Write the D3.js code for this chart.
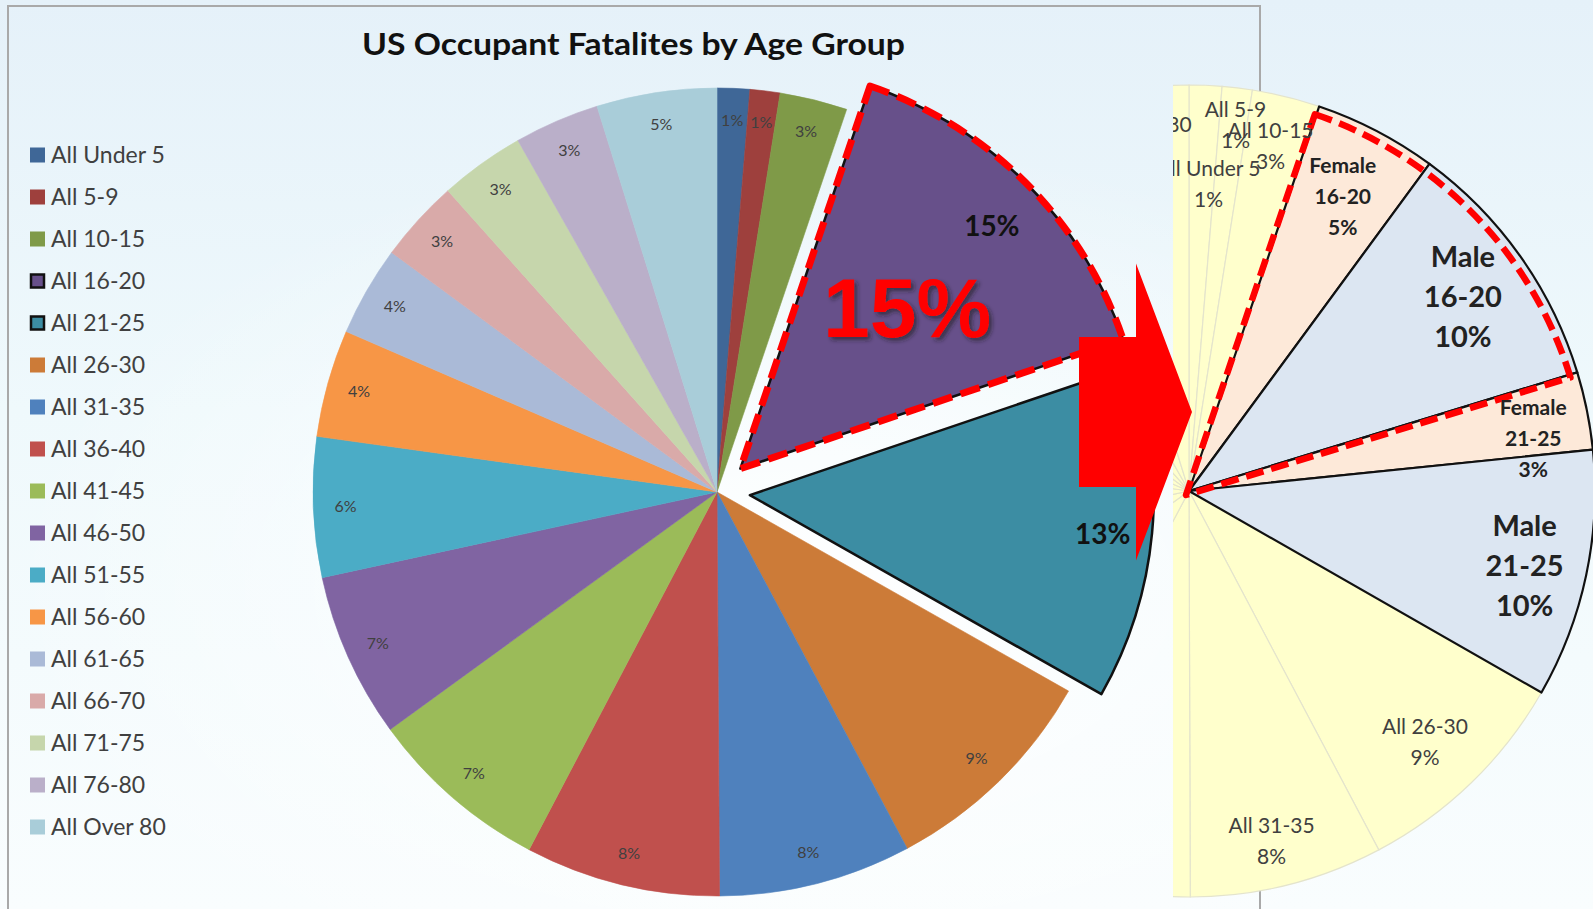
<!DOCTYPE html>
<html>
<head>
<meta charset="utf-8">
<script src="https://cdn.jsdelivr.net/npm/d3@7"></script>
<style>
  html, body { margin: 0; padding: 0; overflow: hidden; background: #fff; }
  svg { display: block; font-family: Lato, "Open Sans", sans-serif; }
</style>
</head>
<body>
<svg id="chart" width="1593" height="909"></svg>
<script>
// share of US occupant fatalities (%)
const ageGroups = ["All Under 5", "All 5-9", "All 10-15", "All 16-20", "All 21-25",
  "All 26-30", "All 31-35", "All 36-40", "All 41-45", "All 46-50", "All 51-55",
  "All 56-60", "All 61-65", "All 66-70", "All 71-75", "All 76-80", "All Over 80"];
const shares = [1.3, 1.2, 2.7, 14.6, 13.4, 9.0, 7.7, 7.8, 7.3, 6.6, 5.6, 4.3, 3.6, 3.3, 3.4, 3.4, 4.8];
const sliceColors = ["#3f6797", "#9e403d", "#7f9a48", "#67508a", "#3c8da3", "#cc7b38",
  "#4f81bd", "#c0504d", "#9bbb59", "#8064a2", "#4bacc6", "#f79646", "#aabad7",
  "#d9aaa9", "#c6d6ac", "#baafc9", "#a9cdd9"];

// groups pulled out of the main pie and split by sex on the right
const splitGroups = ["All 16-20", "All 21-25"];
const splitAges = ["16-20", "21-25"];
const femaleShares = [4.9, 3.1];
const maleShares = [10.2, 9.9];

const W = 1593, H = 909;
const svg = d3.select("#chart");
const defs = svg.append("defs");
const pct = d3.format(".0%");
const total = d3.sum(shares);

// sky-ish background
let sky = defs.append("linearGradient").attr("id", "sky")
  .attr("x1", 0).attr("y1", 0).attr("x2", 0).attr("y2", 1);
sky.append("stop").attr("offset", "0%").attr("stop-color", "#e5f1f9");
sky.append("stop").attr("offset", "45%").attr("stop-color", "#eff9fc");
sky.append("stop").attr("offset", "100%").attr("stop-color", "#f9fdfe");
let glow = defs.append("radialGradient").attr("id", "glow")
  .attr("cx", 0.5).attr("cy", 0.65).attr("r", 0.5);
glow.append("stop").attr("offset", "0%").attr("stop-color", "#ffffff").attr("stop-opacity", 0.95);
glow.append("stop").attr("offset", "100%").attr("stop-color", "#ffffff").attr("stop-opacity", 0);

let shadow = defs.append("filter").attr("id", "shadow")
  .attr("x", "-20%").attr("y", "-20%").attr("width", "140%").attr("height", "140%");
shadow.append("feDropShadow").attr("dx", 3).attr("dy", 3).attr("stdDeviation", 2)
  .attr("flood-color", "#222").attr("flood-opacity", 0.6);

svg.append("rect").attr("width", W).attr("height", H).attr("fill", "url(#sky)");
svg.append("rect").attr("width", W).attr("height", H).attr("fill", "url(#glow)");

// chart frame
svg.append("rect")
  .attr("x", 8).attr("y", 6).attr("width", 1252).attr("height", 940)
  .attr("fill", "none").attr("stroke", "#a9a9a9").attr("stroke-width", 2);

svg.append("text")
  .attr("x", 633.5).attr("y", 55)
  .attr("text-anchor", "middle")
  .attr("font-size", 30).attr("font-weight", "bold").attr("fill", "#111")
  .attr("textLength", 543).attr("lengthAdjust", "spacingAndGlyphs")
  .text("US Occupant Fatalites by Age Group");

// legend
let legend = svg.append("g");
ageGroups.forEach((g, i) => {
  let y = 155 + i * 42;
  let boxed = splitGroups.includes(g);
  legend.append("rect")
    .attr("x", boxed ? 31 : 30).attr("y", y - 7.5 + (boxed ? 1 : 0))
    .attr("width", boxed ? 13 : 15).attr("height", boxed ? 13 : 15)
    .attr("fill", sliceColors[i])
    .attr("stroke", boxed ? "#111" : "none").attr("stroke-width", 2.5);
  legend.append("text")
    .attr("x", 51).attr("y", y + 8)
    .attr("font-size", 23).attr("fill", "#404040")
    .text(g);
});

// ---- main pie ----
const cx = 717, cy = 492, R = 404, explode = 33;
const pie = d3.pie().sort(null).value((d) => d.value);
const mainData = ageGroups.map((g, i) => ({ label: g, value: shares[i], color: sliceColors[i] }));
const mainArcs = pie(mainData);
const arc = d3.arc().innerRadius(0).outerRadius(R);

function shift(d, k) {
  let a = (d.startAngle + d.endAngle) / 2;
  return [Math.sin(a) * k, -Math.cos(a) * k];
}

let mainG = svg.append("g").attr("transform", `translate(${cx},${cy})`);

mainG.selectAll("path.flat")
  .data(mainArcs.filter((d) => !splitGroups.includes(d.data.label)))
  .join("path")
  .attr("class", "flat")
  .attr("d", arc)
  .attr("fill", (d) => d.data.color)
  .attr("stroke", (d) => d.data.color)
  .attr("stroke-width", 0.6);

let pulled = mainG.selectAll("g.pulled")
  .data(mainArcs.filter((d) => splitGroups.includes(d.data.label)))
  .join("g")
  .attr("class", "pulled")
  .attr("transform", (d) => `translate(${shift(d, explode)})`);

pulled.append("path")
  .attr("d", arc)
  .attr("fill", (d) => d.data.color)
  .attr("stroke", "#111")
  .attr("stroke-width", 2.5)
  .attr("stroke-linejoin", "round");

// red dashed highlight around the 16-20 slice
pulled.filter((d) => d.data.label === "All 16-20")
  .append("path")
  .attr("d", arc)
  .attr("fill", "none")
  .attr("stroke", "#ff0000")
  .attr("stroke-width", 7)
  .attr("stroke-dasharray", "20,9")
  .attr("stroke-linejoin", "round");

// slice labels
const labelArc = d3.arc().innerRadius(R * 0.92).outerRadius(R * 0.92);
const pulledLabelArc = d3.arc().innerRadius(R * 0.87).outerRadius(R * 0.87);
mainArcs.forEach((d) => {
  let isPulled = splitGroups.includes(d.data.label);
  let [x, y] = isPulled ? pulledLabelArc.centroid(d) : labelArc.centroid(d);
  if (isPulled) {
    let [dx, dy] = shift(d, explode);
    x += dx + 3; y += dy + 5;
  } else {
    y -= 1;
  }
  mainG.append("text")
    .attr("x", x).attr("y", y)
    .attr("text-anchor", "middle").attr("dominant-baseline", "central")
    .attr("font-size", isPulled ? 28 : 16)
    .attr("font-weight", isPulled ? "bold" : "normal")
    .attr("fill", isPulled ? "#111" : "#404040")
    .text(pct(d.data.value / total));
});

// big red call-out on the 16-20 slice
let hot = mainArcs.find((d) => d.data.label === "All 16-20");
let hotArc = d3.arc().innerRadius(R * 0.57).outerRadius(R * 0.57);
let [hx, hy] = hotArc.centroid(hot);
let [sx, sy] = shift(hot, explode);
mainG.append("text")
  .attr("x", hx + sx + 4).attr("y", hy + sy + 2)
  .attr("text-anchor", "middle").attr("dominant-baseline", "central")
  .attr("font-family", "'Liberation Sans', Arial, sans-serif")
  .attr("font-size", 84).attr("font-weight", "bold")
  .attr("fill", "#ff0000")
  .attr("filter", "url(#shadow)")
  .text(pct(hot.data.value / total));

// ---- right pie: 16-25 split by sex ----
const cx2 = 1189, cy2 = 491, R2 = 406, clipLeft = 1173;
let rightData = [];
ageGroups.forEach((g, i) => {
  let k = splitGroups.indexOf(g);
  if (k < 0) {
    rightData.push({ label: g, lines: [g], value: shares[i], kind: "all" });
  } else {
    rightData.push({ label: "Female " + splitAges[k], lines: ["Female", splitAges[k]], value: femaleShares[k], kind: "female" });
    rightData.push({ label: "Male " + splitAges[k], lines: ["Male", splitAges[k]], value: maleShares[k], kind: "male" });
  }
});
const rightTotal = d3.sum(rightData, (d) => d.value);
const rightArcs = pie(rightData);
const arc2 = d3.arc().innerRadius(0).outerRadius(R2);
const kindFill = { all: "#ffffcc", female: "#fde9d9", male: "#dce6f2" };

defs.append("clipPath").attr("id", "rightClip")
  .append("rect").attr("x", clipLeft).attr("y", 0).attr("width", W - clipLeft).attr("height", H);

let rightG = svg.append("g").attr("clip-path", "url(#rightClip)")
  .append("g").attr("transform", `translate(${cx2},${cy2})`);

rightG.selectAll("path.all")
  .data(rightArcs.filter((d) => d.data.kind === "all"))
  .join("path")
  .attr("d", arc2)
  .attr("fill", kindFill.all)
  .attr("stroke", "#e4e4cc")
  .attr("stroke-width", 1.2);

rightG.selectAll("path.sex")
  .data(rightArcs.filter((d) => d.data.kind !== "all"))
  .join("path")
  .attr("d", arc2)
  .attr("fill", (d) => kindFill[d.data.kind])
  .attr("stroke", "#111")
  .attr("stroke-width", 2.2)
  .attr("stroke-linejoin", "round");

// red dashed outline around both 16-20 wedges
let f1620 = rightArcs.find((d) => d.data.label === "Female 16-20");
let m1620 = rightArcs.find((d) => d.data.label === "Male 16-20");
rightG.append("path")
  .attr("d", d3.arc().innerRadius(0).outerRadius(R2 - 4)({
    startAngle: f1620.startAngle, endAngle: m1620.endAngle
  }))
  .attr("transform", "translate(-3,4)")
  .attr("fill", "none")
  .attr("stroke", "#ff0000")
  .attr("stroke-width", 6.5)
  .attr("stroke-dasharray", "18,8")
  .attr("stroke-linejoin", "round");

// label radius (fraction of R2) and nudges where Excel moved labels
const labelRadius = {
  "All Under 5": 0.76, "All 5-9": 0.9, "All 10-15": 0.87,
  "Female 16-20": 0.82, "Male 16-20": 0.83, "Female 21-25": 0.86, "Male 21-25": 0.85,
  "All 26-30": 0.85, "All 31-35": 0.89, "All Over 80": 0.9
};
const labelNudge = {
  "All Under 5": [7, 0], "All Over 80": [5, 9], "Female 21-25": [2, 16],
  "Male 21-25": [-2, 2], "All 26-30": [-4, 2], "All 31-35": [-5, -2],
  "Male 16-20": [-1, -1], "All 5-9": [3, -4], "All 10-15": [-3, -3]
};
rightArcs.forEach((d) => {
  let k = labelRadius[d.data.label] || 0.86;
  let [nx, ny] = labelNudge[d.data.label] || [0, 0];
  let a = (d.startAngle + d.endAngle) / 2;
  let x = Math.sin(a) * R2 * k + nx, y = -Math.cos(a) * R2 * k + ny;
  let lines = d.data.lines.concat([pct(d.data.value / rightTotal)]);
  let big = d.data.kind === "male";
  let lh = big ? 40 : 31;
  let t = rightG.append("text")
    .attr("text-anchor", "middle")
    .attr("font-size", big ? 29 : 21)
    .attr("font-weight", d.data.kind === "all" ? "normal" : "bold")
    .attr("fill", d.data.kind === "all" ? "#404040" : "#222");
  lines.forEach((s, i) => {
    t.append("tspan")
      .attr("x", x)
      .attr("y", y + (i - (lines.length - 1) / 2) * lh)
      .attr("dominant-baseline", "central")
      .text(s);
  });
});

// ---- red arrow between the two pies ----
const arrowTail = 1079, arrowNeck = 1136, arrowTip = 1192, arrowMid = 412;
const shaftHalf = 75, headHalf = 148.5;
svg.append("path")
  .attr("d", d3.line()([
    [arrowTail, arrowMid - shaftHalf], [arrowNeck, arrowMid - shaftHalf],
    [arrowNeck, arrowMid - headHalf], [arrowTip, arrowMid],
    [arrowNeck, arrowMid + headHalf], [arrowNeck, arrowMid + shaftHalf],
    [arrowTail, arrowMid + shaftHalf]
  ]) + "Z")
  .attr("fill", "#ff0000");
</script>
</body>
</html>
